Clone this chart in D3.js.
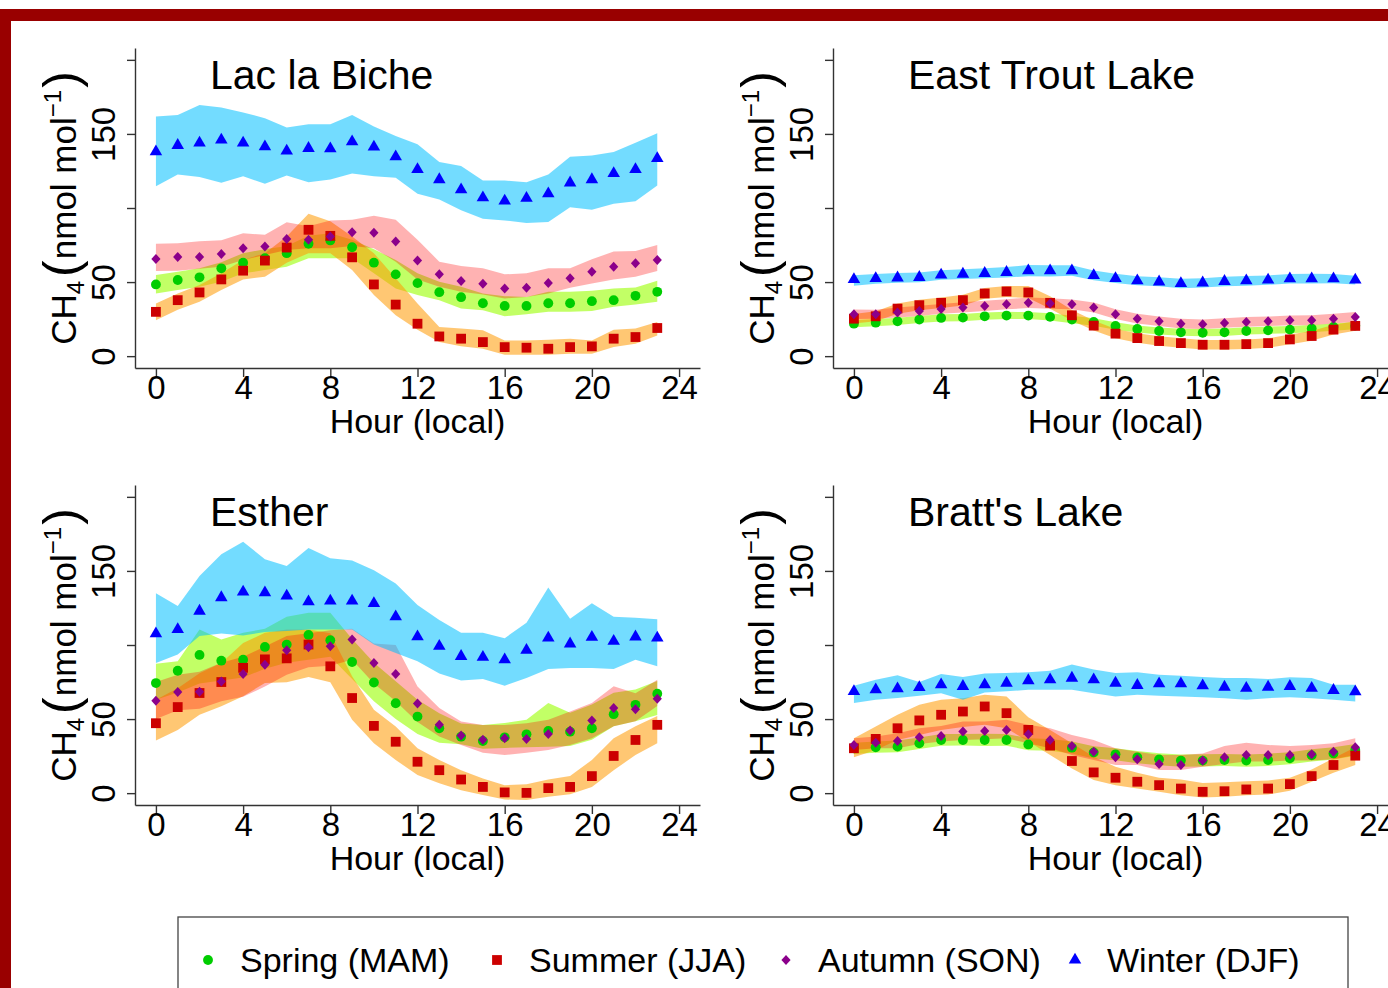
<!DOCTYPE html>
<html>
<head>
<meta charset="utf-8">
<script src="https://cdn.jsdelivr.net/npm/d3@7"></script>
<style>
  body { margin: 0; background: #fff; }
  svg { display: block; font-family: "Liberation Sans", Arial, sans-serif; }
</style>
</head>
<body>
<svg id="chart" width="1388" height="988"></svg>
<script>
// hours of the day (local) and axis ticks
const hours = [0,1,2,3,4,5,6,7,8,9,10,11,12,13,14,15,16,17,18,19,20,21,22,23];
const xTicks = [0, 4, 8, 12, 16, 20, 24];
const yTicks = [0, 50, 100, 150, 200];
const yTickLabels = [0, 50, 150];
const siteNames = ["Lac la Biche", "East Trout Lake", "Esther", "Bratt's Lake"];
const seasonNames = ["Spring (MAM)", "Summer (JJA)", "Autumn (SON)", "Winter (DJF)"];

// Lac la Biche
const llbSpring   = [48.4,51.4,53.2,59.3,63.1,66.1,69.5,75.8,78.1,73.5,63.1,55.2,49.3,43.2,39.8,35.7,33.9,33.9,35.7,35.7,37.1,37.8,40.7,43.4];
const llbSpringHi = [54.8,57,59.3,63.3,69.5,72.2,74.4,81.2,83,78.5,72.2,64.9,55.9,50.2,46.8,42.3,40.5,40,43.4,43.4,44.1,45.7,46.4,50.9];
const llbSpringLo = [42.3,44.6,46.8,50.2,55.9,58.1,60.4,66.1,66.1,66.1,55.9,45.7,41.2,37.8,32.1,31,26.9,28.3,29.9,29.9,30.5,33.3,34.8,36.7];
const llbSummer   = [29.9,37.8,43,51.8,57.7,64.5,73.3,85.3,81.2,66.7,48.4,34.8,21.9,13.3,11.8,9.5,6.1,5.7,5,6.1,6.6,11.8,12.9,19];
const llbSummerHi = [35.5,42.3,48,55.9,64.9,69.5,80.8,96.2,91,80.8,69.5,52.5,35.5,19.7,18.6,17.4,10.6,10.6,11.1,11.8,10.6,17.9,18.6,23.1];
const llbSummerLo = [24.2,31.4,36.7,44.6,51.8,53.6,63.1,69.5,69.5,58.1,41.2,27.6,17.9,9.5,6.6,5,0.9,0.9,0.9,1.6,1.6,6.1,8.4,14];
const llbAutumn   = [65.6,67,67,69,72.9,74,79,78.5,80.8,83.7,83.3,77.4,64.5,55.2,50.7,48.9,45.7,46.2,49.3,52.5,57,60.4,62.7,64.9];
const llbAutumnHi = [75.8,76.2,77.6,78.3,83,81.9,90.3,87.6,91.6,92.1,94.8,92.1,78.5,63.8,60.9,59.3,55.2,55.9,59.3,59.3,65.4,70.6,71,75.1];
const llbAutumnLo = [57.5,57.7,59,60.4,64.9,68.3,71.7,72.9,72.9,74.4,72.9,63.8,51.8,46.8,43.4,41.6,38.9,40,42.3,46.2,49.1,51.8,53.6,57.5];
const llbWinter   = [138,142.3,143.9,145.9,143.9,141.4,138.5,140.3,140,144.8,141.2,134.6,126,119.2,112.4,107,104.8,106.6,109.7,117,119.2,123.3,126,133.5];
const llbWinterHi = [161.8,162.7,169.5,167.9,164.5,160.6,154.3,156.6,156.6,162.7,155,148.6,143,131,128.3,118.6,118.6,117.4,122.6,134.6,135.5,137.8,144.1,150.5];
const llbWinterLo = [114.7,122.6,121,117,121.5,116.3,121.9,117.4,119.2,123.3,121.5,120.4,109.7,105.7,98.4,92.8,91.6,89.8,90.5,100.5,98.9,102.9,104.5,115.2];

// East Trout Lake
const etlSpring   = [21.9,22.6,23.5,24.7,25.8,26,26.9,27.4,27.4,26.5,24.7,23.1,20.4,18.3,17,16.1,15.8,16.1,17,17.4,17.9,18.6,19.7,20.6];
const etlSpringHi = [24.3,25,26,27.1,28.2,28.5,29.4,29.9,29.8,29,27.2,25.6,22.9,20.7,19.4,18.5,18.3,18.6,19.5,19.9,20.4,21.1,22.1,23];
const etlSpringLo = [19.5,20.2,21.1,22.3,23.4,23.6,24.5,25,25,24.1,22.2,20.6,17.9,15.9,14.6,13.7,13.4,13.6,14.6,15,15.4,16.1,17.2,18.2];
const etlSummer   = [25.3,26.9,32.1,34.4,36,37.8,42.3,43.7,43,36,27.6,20.6,15.2,12.2,10.2,8.8,7.7,7.7,8.1,8.8,11.3,13.6,17.9,20.4];
const etlSummerHi = [28.5,30.3,35.6,38,39.6,41.5,46,47.4,47.3,40.5,31.2,24,18.4,15.4,13.4,12,10.9,10.9,11.3,12.1,14.6,16.9,21.2,23.6];
const etlSummerLo = [22,23.6,28.7,30.9,32.5,34.2,38.8,40,39.2,32,24,17.3,12,9.1,7,5.6,4.5,4.5,4.9,5.6,8.1,10.4,14.6,17.2];
const etlAutumn   = [28.3,28.3,29.4,30.5,31.9,32.8,33.9,35,36,35.5,35,32.8,28.3,25.3,23.5,21.9,21.5,22.4,23.1,23.5,24.2,24.2,25.3,26.5];
const etlAutumnHi = [31.5,31.4,32.8,34,35.2,36.3,37.4,38.4,39.6,39,38.3,36.2,31.7,28.6,26.8,25.2,24.7,25.6,26.4,26.7,27.5,27.6,28.6,29.8];
const etlAutumnLo = [25,25.2,26.1,27.1,28.6,29.4,30.5,31.6,32.5,32,31.7,29.4,25,22,20.3,18.7,18.3,19.2,19.8,20.3,20.9,20.9,22,23.3];
const etlWinter   = [51.8,52.5,52.9,53.2,54.8,55.4,55.9,56.6,57.7,57.7,57.7,54.5,52.5,50.9,50.2,49.1,49.5,50.5,50.9,51.4,52.3,52.3,52.3,51.4];
const etlWinterHi = [54.6,55.5,56.2,56.4,58,58.7,59.3,60.1,61.6,61.4,61.3,57.8,55.6,53.9,53.3,52.3,52.6,53.6,54.1,54.5,55.5,55.7,55.4,54.3];
const etlWinterLo = [47.5,48.9,49.6,49.9,51.5,52.1,52.6,53.1,54,53.8,54.2,51.2,49.3,47.8,47.1,45.9,46.3,47.2,47.6,48.2,49,49.1,49.2,48.3];

// Esther
const estSpring   = [74.3,82.6,93.3,89.4,90.1,98.7,100.3,106.8,103.2,88.5,74.7,60.7,51.7,43.8,38.1,35.2,37.7,39.7,42,41.5,43.8,53.3,59.6,67.1];
const estSpringHi = [87.4,89,110.5,103.7,108.2,110.9,119.1,121.8,121.8,104,88,75.5,63.1,54,47,46,47.3,49.5,60.8,54.2,59.9,67.8,70,75.7];
const estSpringLo = [63,68,74,76,78,84,88,90,92,77,62,50,40,34,33,30,30.5,31,31.4,31.9,36.1,45.2,48.5,52.8];
const estSummer   = [47.2,58.1,67.6,75,84.6,90.3,91,100.3,85.6,64.2,45.4,34.7,21.2,15.5,9.2,4.2,0.5,0.2,3.4,4.2,11.5,25.1,35.9,46.1];
const estSummerHi = [63,70.8,81,87.9,101.4,108.2,110.5,110.5,108,78.9,56.3,45,30.3,22.4,15.5,9.9,5.4,6,9.2,11.5,22.4,37.1,45.2,52];
const estSummerLo = [35.5,42.7,52.9,58.6,65.4,74.4,74.8,78.4,74.8,49.5,33.7,22.4,12.2,6.6,2,-1.3,-4.3,-4.7,-2.5,-0.7,4.2,15.5,25.7,33.6];
const estAutumn   = [62.3,68.2,68.4,75.4,80.4,86.7,96.5,98.5,99.2,103.7,87.9,80.4,60.5,46.1,38.9,36,37.1,36.6,40,42.3,49.1,57.4,56.7,63.7];
const estAutumnHi = [75,80,82,88,92,99,106,108,110,111,101,100,72,57.4,48.3,46,46,47.1,49.5,55.1,60.8,72.1,67.5,76.6];
const estAutumnLo = [50,56,57,62,65,72,80,85,86,90,74,62,48,38.2,32.5,27.3,25.7,27.3,29.1,32.5,37,45.2,48.5,58.8];
const estWinter   = [107.6,110.5,122.9,132,135.8,135.3,133.1,129.2,129.7,129.7,128.1,119.1,105.6,99.2,92.4,91.8,90.1,96.5,104.8,100.8,105.3,102.6,105.5,104.8];
const estWinterHi = [134.9,126.3,146.6,161.3,169.7,157.9,153.4,165.4,158.6,157,150.5,141.5,127,116.8,108.2,108.2,104.6,115,138.8,117.7,128.1,119.1,118.4,117.3];
const estWinterLo = [87.9,93.6,106.1,107.8,106.4,108.7,109.4,110.5,110.5,110.5,100.3,94.6,89,80.7,76.1,77,72.5,77.7,83.8,84.5,84.5,83.8,90.1,85.6];

// Bratt's Lake
const blkSpring   = [30.3,31,31.4,33.6,35.9,35.9,35.9,35.9,32.9,32.5,30.7,27.5,26.2,24.2,22.8,22,22,22.4,22,22.4,23.5,25.5,26.8,29.2];
const blkSpringHi = [34,34.8,35.5,37.6,39.9,40,40.1,40,37,36.5,34.8,31.6,30.3,28.4,26.9,26.1,26.2,26.5,26.1,26.6,27.6,29.6,30.9,33.2];
const blkSpringLo = [26.5,27.3,27.6,29.8,32,32.1,31.9,32,29,28.6,26.7,23.4,22.2,20.1,18.8,17.9,18,18.3,17.9,18.4,19.5,21.4,22.7,25.2];
const blkSummer   = [30.3,36.6,43.8,49.1,52.9,55.1,58.5,54,42.7,32.1,21.7,14,10.4,7.7,5.4,3.1,0.9,1.3,2.5,3.1,6.1,11.5,19,25.3];
const blkSummerHi = [37,45,52.9,59.7,63,64,66.4,65.3,51.3,42.7,33.6,24.6,17.8,13.7,10.4,9.2,6.9,7.4,8.1,8.5,10.4,16,23.5,31];
const blkSummerLo = [24.2,29.2,35.9,39.3,42.7,44.6,46.1,43.8,34.8,25.7,16.7,8.8,5.4,3.1,0.9,-1.4,-3,-2.5,-1.4,-0.9,1.6,7.7,13.7,19];
const blkAutumn   = [32.5,34.1,35.2,37.7,38.6,41.6,42,42.7,39.7,35.9,31.9,28,24.2,22.8,19.7,19,22,24.2,25.7,25.7,25.7,26.2,28,31];
const blkAutumnHi = [37,38.2,40.4,43.8,45.4,48.3,48.3,49.5,46.1,43.8,39.3,35.9,30.3,28,25.7,25.7,26.8,31.8,34.1,32.5,31.8,32.5,33.6,37];
const blkAutumnLo = [29.2,30.3,30.3,33.2,34.8,35.9,36.3,37,33.6,30.3,25.7,22.4,19,19,15.6,15.6,17.8,19.7,21.3,21.3,22,22,22.8,25.7];
const blkWinter   = [68.7,69.8,70.5,71.4,73.2,72.1,73.2,74.3,76,76.6,77.7,76.6,74.3,72.8,73.9,73.9,72.5,71.6,70.9,71.6,72.1,70.9,69.4,68.5];
const blkWinterHi = [72.5,76.6,79.5,75,80.4,78.4,80.7,81.1,81.6,82.7,86.8,83.4,81.1,81.6,80,79.3,78.4,77.7,77.7,77,78.2,77.7,73.2,73.2];
const blkWinterLo = [60.8,63,64.2,65.7,67.5,63,68,68.7,69.8,69.8,69.8,67.5,65.2,66.4,65.7,65.2,64.8,64.1,63,64.1,64.8,64.1,63,61.9];

// table built from the arrays above
const siteTable = [
  [[llbSpring, llbSpringLo, llbSpringHi], [llbSummer, llbSummerLo, llbSummerHi], [llbAutumn, llbAutumnLo, llbAutumnHi], [llbWinter, llbWinterLo, llbWinterHi]],
  [[etlSpring, etlSpringLo, etlSpringHi], [etlSummer, etlSummerLo, etlSummerHi], [etlAutumn, etlAutumnLo, etlAutumnHi], [etlWinter, etlWinterLo, etlWinterHi]],
  [[estSpring, estSpringLo, estSpringHi], [estSummer, estSummerLo, estSummerHi], [estAutumn, estAutumnLo, estAutumnHi], [estWinter, estWinterLo, estWinterHi]],
  [[blkSpring, blkSpringLo, blkSpringHi], [blkSummer, blkSummerLo, blkSummerHi], [blkAutumn, blkAutumnLo, blkAutumnHi], [blkWinter, blkWinterLo, blkWinterHi]]
];

// season styles: point colour, band colour, band opacity, marker
const seasonStyle = [
  { point: "#00CD00", band: "#9AFF00", alpha: 0.6,  shape: "circle" },
  { point: "#CC0000", band: "#FF9900", alpha: 0.55, shape: "square" },
  { point: "#8B008B", band: "#FF0000", alpha: 0.3,  shape: "diamond" },
  { point: "#0000FF", band: "#00BFFF", alpha: 0.55, shape: "triangle" }
];

const svg = d3.select("#chart");
const axisColor = "#333";

// dark red frame of the slide
svg.append("rect").attr("x", 0).attr("y", 9).attr("width", 1388).attr("height", 12).attr("fill", "#990000");
svg.append("rect").attr("x", 0).attr("y", 9).attr("width", 11).attr("height", 979).attr("fill", "#990000");

const symbolFor = (shape) => {
  if (shape === "circle") return d3.symbol().type(d3.symbolCircle).size(76)();
  if (shape === "square") return d3.symbol().type(d3.symbolSquare).size(96)();
  if (shape === "triangle") return d3.symbol().type(d3.symbolTriangle).size(68)();
  return "M0,-5L4.6,0L0,5L-4.6,0Z"; // diamond like R pch 18
};

const plotW = 565, plotH = 320;

siteNames.forEach((name, i) => {
  const left = 135 + (i % 2) * 698;
  const top = 48 + Math.floor(i / 2) * 437;

  const x = d3.scaleLinear().domain([-0.96, 24.96]).range([left, left + plotW]);
  const y = d3.scaleLinear().domain([-8, 208]).range([top + plotH, top]);

  const g = svg.append("g");
  const series = siteTable[i];

  // shaded ranges
  series.forEach((s, k) => {
    const area = d3.area()
      .x((d, j) => x(hours[j]))
      .y0((d, j) => y(s[1][j]))
      .y1((d, j) => y(s[2][j]));
    g.append("path")
      .attr("d", area(s[0]))
      .attr("fill", seasonStyle[k].band)
      .attr("fill-opacity", seasonStyle[k].alpha);
  });

  // hourly means
  series.forEach((s, k) => {
    g.selectAll(null)
      .data(s[0])
      .join("path")
      .attr("transform", (d, j) => `translate(${x(hours[j])},${y(d)})`)
      .attr("d", symbolFor(seasonStyle[k].shape))
      .attr("fill", seasonStyle[k].point);
  });

  // axes
  const xAxis = g.append("g")
    .attr("transform", `translate(0,${top + plotH})`)
    .call(d3.axisBottom(x).tickValues(xTicks).tickSize(9).tickSizeOuter(0));
  xAxis.selectAll("text").attr("y", 31).attr("dy", 0).attr("font-size", 33)
    .attr("font-family", "Liberation Sans, Arial, sans-serif").attr("fill", "#000");

  const yAxis = g.append("g")
    .attr("transform", `translate(${left},0)`)
    .call(d3.axisLeft(y).tickValues(yTicks).tickSize(8).tickSizeOuter(0)
      .tickFormat(d => yTickLabels.includes(d) ? d : ""));
  yAxis.selectAll("text")
    .attr("x", null).attr("dy", 0)
    .attr("transform", "translate(-20,0) rotate(-90)")
    .attr("text-anchor", "middle")
    .attr("font-size", 33)
    .attr("font-family", "Liberation Sans, Arial, sans-serif").attr("fill", "#000");

  [xAxis, yAxis].forEach(a => {
    a.select(".domain").attr("stroke", axisColor).attr("stroke-width", 1.4);
    a.selectAll(".tick line").attr("stroke", axisColor).attr("stroke-width", 1.4);
  });

  // axis titles
  g.append("text")
    .attr("x", x(12)).attr("y", top + 385)
    .attr("text-anchor", "middle").attr("font-size", 34)
    .text("Hour (local)");

  const yt = g.append("text")
    .attr("transform", `translate(${left - 59},${top + plotH / 2}) rotate(-90)`)
    .attr("text-anchor", "middle").attr("font-size", 35);
  yt.append("tspan").text("CH");
  yt.append("tspan").attr("font-size", 24).attr("dy", 8).text("4");
  yt.append("tspan").attr("font-size", 50).attr("dy", -6).attr("dx", 4).text("(");
  yt.append("tspan").attr("dy", -2).attr("dx", 1).text("nmol mol");
  yt.append("tspan").attr("font-size", 24).attr("dy", -15).text("\u22121");
  yt.append("tspan").attr("font-size", 50).attr("dy", 17).attr("dx", 2).text(")");

  // site title
  g.append("text")
    .attr("x", left + 75).attr("y", top + 41)
    .attr("font-size", 41)
    .text(name);
});

// legend
const legend = svg.append("g");
legend.append("rect")
  .attr("x", 178).attr("y", 917).attr("width", 1170).attr("height", 100)
  .attr("fill", "#fff").attr("stroke", "#444").attr("stroke-width", 1.3);

const lx = d3.scalePoint().domain(seasonNames).range([208, 1075]);
seasonNames.forEach((s, k) => {
  legend.append("path")
    .attr("transform", `translate(${lx(s)},960)`)
    .attr("d", symbolFor(seasonStyle[k].shape))
    .attr("fill", seasonStyle[k].point);
  legend.append("text")
    .attr("x", lx(s) + 32).attr("y", 972)
    .attr("font-size", 34)
    .text(s);
});
</script>
</body>
</html>
